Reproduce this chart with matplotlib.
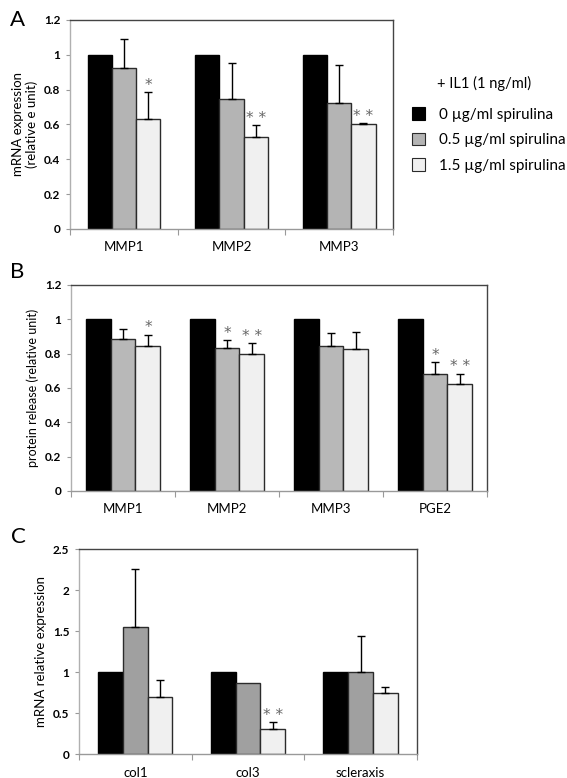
#libs
import matplotlib
matplotlib.use('Agg')
import matplotlib.pyplot as plt
import numpy as np

plt.rcParams['font.family'] = ['Lato', 'DejaVu Sans']

#data
series_names = ['0 µg/ml spirulina', '0.5 µg/ml spirulina', '1.5 µg/ml spirulina']
legend_title = '+ IL1 (1 ng/ml)'

# panel A - mRNA expression
a_cats = ['MMP1', 'MMP2', 'MMP3']
a_vals = [[1.0, 1.0, 1.0],
          [0.925, 0.746, 0.722],
          [0.629, 0.530, 0.602]]
a_err = [[0, 0, 0],
         [0.167, 0.207, 0.222],
         [0.159, 0.068, 0.006]]
a_stars = [['', '', ''],
           ['', '', ''],
           ['*', '**', '**']]

# panel B - protein release
b_cats = ['MMP1', 'MMP2', 'MMP3', 'PGE2']
b_vals = [[1.0, 1.0, 1.0, 1.0],
          [0.887, 0.835, 0.845, 0.684],
          [0.845, 0.800, 0.825, 0.625]]
b_err = [[0, 0, 0, 0],
         [0.057, 0.043, 0.077, 0.066],
         [0.066, 0.064, 0.103, 0.059]]
b_stars = [['', '', '', ''],
           ['', '*', '', '*'],
           ['*', '**', '', '**']]

# panel C - mRNA relative expression
c_cats = ['col1', 'col3', 'scleraxis']
c_vals = [[1.0, 1.0, 1.0],
          [1.545, 0.87, 1.0],
          [0.699, 0.309, 0.744]]
c_err = [[0, 0, 0],
         [0.715, 0, 0.443],
         [0.203, 0.077, 0.069]]
c_stars = [['', '', ''],
           ['', '', ''],
           ['', '**', '']]


def draw_panel(ax, cats, vals, errs, stars, colors, width, ymax, ystep, ylabel, ylsize, star_off):
    x = np.arange(len(cats))
    bars = []
    for i in range(3):
        pos = x + (i - 1) * width
        b = ax.bar(pos, vals[i], width, color=colors[i],
                   edgecolor='black' if i == 0 else '#2b2b2b', linewidth=1.0, zorder=2)
        bars.append(b)
        e = np.array(errs[i])
        v = np.array(vals[i])
        has = e > 0
        if has.any():
            ax.errorbar(pos[has], v[has], yerr=[np.zeros(has.sum()), e[has]],
                        fmt='none', ecolor='black', elinewidth=1.0, capsize=3,
                        capthick=1.0, zorder=3)
        for j, s in enumerate(stars[i]):
            if s:
                ax.text(pos[j], v[j] + errs[i][j] + star_off, ' '.join(s),
                        ha='center', va='bottom', fontsize=11, color='#666666',
                        family='DejaVu Sans')
    ax.set_xlim(-0.5, len(cats) - 0.5)
    ax.set_ylim(0, ymax)
    ax.set_yticks(np.arange(0, ymax + 1e-9, ystep))
    ax.set_yticklabels(['%g' % t for t in np.arange(0, ymax + 1e-9, ystep)],
                       fontsize=8.5, fontweight='bold')
    ax.set_xticks(np.arange(-0.5, len(cats), 1.0))
    ax.set_xticklabels([])
    ax.set_xticks(x, minor=True)
    ax.set_xticklabels(cats, minor=True, fontsize=9.5)
    ax.tick_params(axis='x', which='major', length=4, color='#999999', direction='out')
    ax.tick_params(axis='x', which='minor', length=0, pad=9)
    ax.tick_params(axis='y', length=3, color='#999999', pad=4)
    ax.spines['top'].set_color('#444444')
    ax.spines['right'].set_color('#444444')
    ax.spines['left'].set_color('#b0b0b0')
    ax.spines['bottom'].set_color('#999999')
    for s in ax.spines.values():
        s.set_linewidth(1.0)
    ax.set_ylabel(ylabel, fontsize=ylsize)
    return bars


fig = plt.figure(figsize=(5.67, 7.78), dpi=100)

axA = fig.add_axes([0.1235, 0.7057, 0.5697, 0.2686])
barsA = draw_panel(axA, a_cats, a_vals, a_err, a_stars,
                   ['black', '#b4b4b4', '#f0f0f0'], 0.225, 1.2, 0.2,
                   'mRNA expression\n(relative e unit)', 9.5, -0.005)

axB = fig.add_axes([0.1252, 0.3689, 0.7337, 0.2648])
draw_panel(axB, b_cats, b_vals, b_err, b_stars,
           ['black', '#b8b8b8', '#f0f0f0'], 0.24, 1.2, 0.2,
           'protein release (relative unit)', 9, -0.005)

axC = fig.add_axes([0.1393, 0.0308, 0.5961, 0.2635])
draw_panel(axC, c_cats, c_vals, c_err, c_stars,
           ['black', '#a0a0a0', '#f0f0f0'], 0.22, 2.5, 0.5,
           'mRNA relative expression', 9.5, -0.01)

#panel letters
fig.text(0.018, 0.987, 'A', fontsize=16, va='top', ha='left')
fig.text(0.018, 0.663, 'B', fontsize=16, va='top', ha='left')
fig.text(0.020, 0.322, 'C', fontsize=16, va='top', ha='left')

#legend
fig.text(437 / 567, 1 - 83 / 778, legend_title, fontsize=10.5, va='center', ha='left')
leg = fig.legend([b[0] for b in barsA], series_names,
                 loc='upper left', bbox_to_anchor=(0.727, 0.862), frameon=False,
                 fontsize=11, handlelength=0.85, handleheight=0.85,
                 handletextpad=0.9, labelspacing=0.73, borderaxespad=0, borderpad=0)
for h in leg.legend_handles:
    h.set_linewidth(0.8)

plt.savefig('out.png', dpi=100)
